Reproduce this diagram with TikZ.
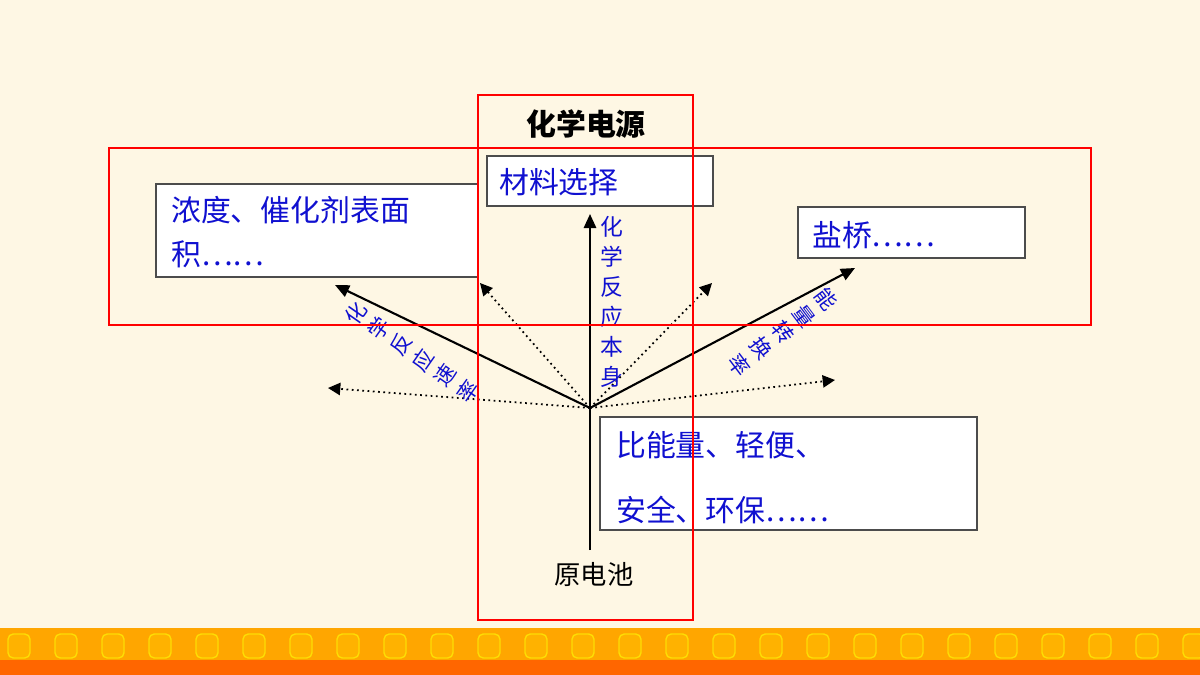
\documentclass[tikz,border=0pt]{standalone}
\usepackage{fontspec}
\newfontfamily\cjk{Noto Sans CJK SC}
\usetikzlibrary{arrows.meta}
\definecolor{bg}{HTML}{FEF7E4}
\definecolor{bblue}{HTML}{1010D0}
\begin{document}
\begin{tikzpicture}[x=0.02cm,y=-0.02cm,
  box/.style={draw=black!70,fill=white,line width=0.6pt,anchor=north west,inner sep=0,outer sep=0},
  btxt/.style={anchor=north west,text=bblue,font=\cjk\fontsize{17}{30}\selectfont,align=left},
  sol/.style={line width=1.2pt,-{Stealth[length=8pt,width=7pt,inset=0pt]},shorten >=0pt},
  dot/.style={line width=1pt,dotted,-{Stealth[length=7pt,width=7pt,inset=0pt]}},
  redr/.style={draw=red,line width=1.2pt},
  lab/.style={text=bblue,font=\cjk\fontsize{12}{15.5}\selectfont,align=center,inner sep=0}]
\fill[bg] (0,0) rectangle (1200,675);
\useasboundingbox (0,0) rectangle (1200,675);
% bottom border
\fill[orange!70!yellow] (0,628) rectangle (1200,675);
\fill[orange!80!red] (0,660) rectangle (1200,675);
\foreach \i in {0,...,25}{\draw[yellow!80!orange,fill=orange!60!yellow,line width=0.8pt,rounded corners=3pt] (\i*47+8,634) rectangle (\i*47+30,658);}
% boxes
\draw[box] (487,156) rectangle (713,206); \node[btxt] (m) at (493,162) {材料选择};
\draw[box] (156,184) rectangle (478,277); \node[btxt,font=\cjk\fontsize{17}{25}\selectfont] (n) at (165,190) {浓度、催化剂表面\\积……};
\draw[box] (798,207) rectangle (1025,258); \node[btxt] (y) at (806,215) {盐桥……};
\draw[box] (600,417) rectangle (977,530); \node[btxt,font=\cjk\fontsize{17}{37}\selectfont] (b) at (610,425) {比能量、轻便、\\安全、环保……};
% center
\coordinate (o) at (590,408);
\coordinate (top) at (590,214);
\coordinate (bot) at (590,550);
\node[font=\cjk\fontsize{15}{18}\selectfont] (y0) at (594,574) {原电池};
\node[font=\cjk\bfseries\fontsize{17}{20}\selectfont] (t) at (586,124) {化学电源};
\draw[line width=1.2pt] (bot) -- (o);
\draw[sol] (o) -- (top);
\coordinate (a1) at (335,285); \coordinate (a2) at (855,268);
\draw[sol] (o) -- (a1);
\draw[sol] (o) -- (a2);
\coordinate (d1) at (480,283); \coordinate (d2) at (712,283);
\coordinate (d3) at (328,388); \coordinate (d4) at (835,380);
\draw[dot] (o) -- (d1); \draw[dot] (o) -- (d2);
\draw[dot] (o) -- (d3); \draw[dot] (o) -- (d4);
% labels
\node[lab,font=\cjk\fontsize{13}{17}\selectfont] (l1) at (612,302) {化\\学\\反\\应\\本\\身};
\node[lab,rotate=55] (l2) at (412,352) {化\\学\\反\\应\\速\\率};
\node[lab,rotate=-53] (l3) at (783,332) {能\\量\\转\\换\\率};
% red rects
\draw[redr] (478,95) rectangle (693,620);
\draw[redr] (109,148) rectangle (1091,325);
\end{tikzpicture}
\end{document}
